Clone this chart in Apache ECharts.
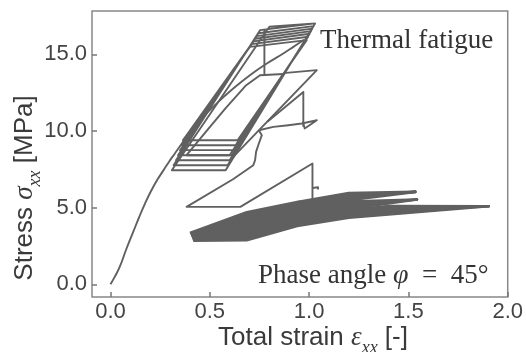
<!DOCTYPE html>
<html><head><meta charset="utf-8">
<script src="https://cdn.jsdelivr.net/npm/echarts@6/dist/echarts.min.js"></script>
<style>html,body{margin:0;padding:0;background:#fff}#c{width:526px;height:352px}</style>
</head><body><div id="c"></div>
<script>
const xTicks = [0, 0.5, 1.0, 1.5, 2.0];
const yTicks = [0, 5, 10, 15];

const initialCurve = [[0,0],[0.02,0.45],[0.047,1.15],[0.08,2.3],[0.114,3.4],[0.145,4.4],[0.175,5.3],[0.205,6.1],[0.235,6.8],[0.265,7.4],[0.295,8.0],[0.325,8.55],[0.355,9.1],[0.395,9.85]];

const fatigueCycles = [[0.395,9.85],[0.50,11.8],[0.60,13.65],[0.702,15.49],
  [0.988,15.93],[0.64,9.40],[0.365,9.40],
  [0.710,15.67],[0.995,16.15],[0.63,9.07],[0.360,9.07],
  [0.720,15.85],[1.003,16.35],[0.62,8.75],[0.350,8.75],
  [0.728,16.02],[1.010,16.52],[0.61,8.42],[0.340,8.42],
  [0.736,16.19],[1.016,16.68],[0.60,8.09],[0.330,8.09],
  [0.744,16.38],[1.022,16.84],[0.59,7.77],[0.318,7.77],
  [0.753,16.58],[1.030,17.02],[0.58,7.44],[0.309,7.44],
  [0.80,16.80],[1.030,17.02]];

const loadingCurve = [[0.366,9.40],[0.451,10.70],[0.535,11.80],[0.618,12.77],[0.702,13.64],[0.787,14.40],[0.870,15.06],[0.921,15.49],[0.975,15.95]];
const innerLoop = [[0.383,8.42],[0.48,9.95],[0.58,11.5],[0.68,12.95],[0.753,13.64],[0.87,13.72],[0.60,8.42],[0.383,8.42]];
const dropLine = [[0.775,16.62],[0.775,13.70]];
const outerLine = [[0.617,8.30],[1.039,13.97],[0.87,13.78]];
const diagVertical = [[0.79,10.6],[0.971,12.55],[0.971,10.27]];
const jaggedStep = [[0.747,10.05],[0.82,10.27],[0.896,10.38],[0.963,10.49],[1.039,10.70],[0.978,10.16],[0.968,10.62]];
const descentTriangle = [[0.747,10.05],[0.762,9.73],[0.753,9.40],[0.744,9.07],[0.733,8.64],[0.728,8.09],[0.719,7.77],[0.617,6.85],[0.383,5.05],[0.654,5.05],[1.017,7.88],[1.017,5.48],[0.938,5.37]];
const hook = [[1.017,6.28],[1.045,6.33],[1.045,6.18]];

const bandLoop0 = [[0.417,2.85],[0.686,2.87],[0.94,3.80],[1.2,4.35],[1.40,4.55],[1.904,5.09],[1.40,4.66],[1.2,4.44],[0.94,3.89],[0.686,2.98],[0.417,2.85]];
const bandLoop1 = [[0.415,2.91],[0.686,3.09],[0.94,3.98],[1.2,4.54],[1.40,4.77],[1.904,5.09],[1.40,4.88],[1.2,4.63],[0.94,4.08],[0.686,3.19],[0.415,2.91]];
const bandLoop2 = [[0.413,2.97],[0.686,3.30],[0.94,4.17],[1.2,4.73],[1.40,4.99],[1.904,5.09],[1.40,5.10],[1.2,4.82],[0.94,4.26],[0.686,3.41],[0.413,2.97]];
const bandLoop3 = [[0.411,3.04],[0.686,3.52],[0.94,4.35],[1.2,4.92],[1.543,5.53],[1.2,5.01],[0.94,4.45],[0.686,3.62],[0.411,3.04]];
const bandLoop4 = [[0.409,3.10],[0.686,3.73],[0.94,4.54],[1.2,5.11],[1.543,5.53],[1.2,5.20],[0.94,4.63],[0.686,3.84],[0.409,3.10]];
const bandLoop5 = [[0.407,3.16],[0.686,3.95],[0.94,4.72],[1.2,5.30],[1.543,5.53],[1.2,5.39],[0.94,4.82],[0.686,4.05],[0.407,3.16]];
const bandLoop6 = [[0.405,3.22],[0.686,4.16],[0.94,4.91],[1.2,5.49],[1.535,6.03],[1.2,5.58],[0.94,5.00],[0.686,4.27],[0.405,3.22]];
const bandLoop7 = [[0.403,3.28],[0.686,4.38],[0.94,5.09],[1.2,5.68],[1.535,6.03],[1.2,5.77],[0.94,5.19],[0.686,4.48],[0.403,3.28]];
const bandLoop8 = [[0.400,3.35],[0.686,4.59],[0.94,5.28],[1.2,5.87],[1.535,6.03],[1.2,5.96],[0.94,5.37],[0.686,4.70],[0.400,3.35]];

const LINE = '#606060';
function mk(data, w, smooth) {
  return {type:'line', data:data, showSymbol:false, symbol:'none', smooth:smooth||false,
    lineStyle:{color:LINE, width:w, join:'round'}, silent:true, animation:false};
}
const outlineSets = [fatigueCycles, innerLoop, dropLine, outerLine, diagVertical, jaggedStep, descentTriangle, hook];
const bandSets = [bandLoop0,bandLoop1,bandLoop2,bandLoop3,bandLoop4,bandLoop5,bandLoop6,bandLoop7,bandLoop8];
const series = [mk(initialCurve,1.9,0.5), mk(loadingCurve,1.9,0.4)]
  .concat(outlineSets.map(d=>mk(d,1.9)))
  .concat(bandSets.map(d=>mk(d,2.6)));

const SANS = '"Liberation Sans", Arial, sans-serif';
const SERIF = '"Liberation Serif", "Times New Roman", serif';
const TXT = '#3a3a3a';
const richLabel = {
  n:{fontSize:26, fontFamily:SANS, fill:TXT, lineHeight:27, verticalAlign:'top'},
  i:{fontSize:27, fontFamily:SERIF, fontStyle:'italic', fill:TXT, lineHeight:27, verticalAlign:'top'},
  s:{fontSize:18, fontFamily:SERIF, fontStyle:'italic', fill:TXT, lineHeight:18, verticalAlign:'top', padding:[15,0,0,0]}
};

const chart = echarts.init(document.getElementById('c'), null, {renderer:'canvas'});
chart.setOption({
  animation:false,
  backgroundColor:'#ffffff',
  grid:{left:92, right:18, top:11, bottom:55, show:true, borderColor:'#888', borderWidth:1.5, containLabel:false},
  xAxis:{type:'value', min:-0.093, max:2.0,
    axisLine:{show:false, onZero:false}, splitLine:{show:false},
    axisTick:{show:true, inside:true, length:5, customValues:xTicks, lineStyle:{color:'#777', width:1.5}},
    axisLabel:{show:true, customValues:xTicks, formatter:v=>Number(v).toFixed(1), fontSize:22, fontFamily:SANS, color:'#444', margin:4}},
  yAxis:{type:'value', min:-0.83, max:17.83,
    axisLine:{show:false, onZero:false}, splitLine:{show:false},
    axisTick:{show:true, inside:true, length:5, customValues:yTicks, lineStyle:{color:'#777', width:1.5}},
    axisLabel:{show:true, customValues:yTicks, formatter:v=>Number(v).toFixed(1), fontSize:22, fontFamily:SANS, color:'#444', margin:5}},
  series: series,
  graphic:[
    {type:'text', x:320, y:41, silent:true, style:{text:'Thermal fatigue', font:'27px '+SERIF, fill:'#333', align:'left', verticalAlign:'middle'}},
    {type:'text', x:258, y:276, silent:true, style:{text:'{n|Phase angle }{i|φ}{n|  =  45°}', align:'left', verticalAlign:'middle',
      rich:{n:{fontSize:27, fontFamily:SERIF, fill:'#333'}, i:{fontSize:28, fontFamily:SERIF, fontStyle:'italic', fill:'#333'}}}},
    {type:'text', x:313, y:338, silent:true, style:{text:'{n|Total strain }{i|ε}{s|xx}{n| [-]}', align:'center', verticalAlign:'middle', rich:richLabel}},
    {type:'text', x:25, y:188, rotation:Math.PI/2, silent:true, style:{text:'{n|Stress }{i|σ}{s|xx}{n| [MPa]}', align:'center', verticalAlign:'middle', rich:richLabel}}
  ]
});
</script></body></html>
